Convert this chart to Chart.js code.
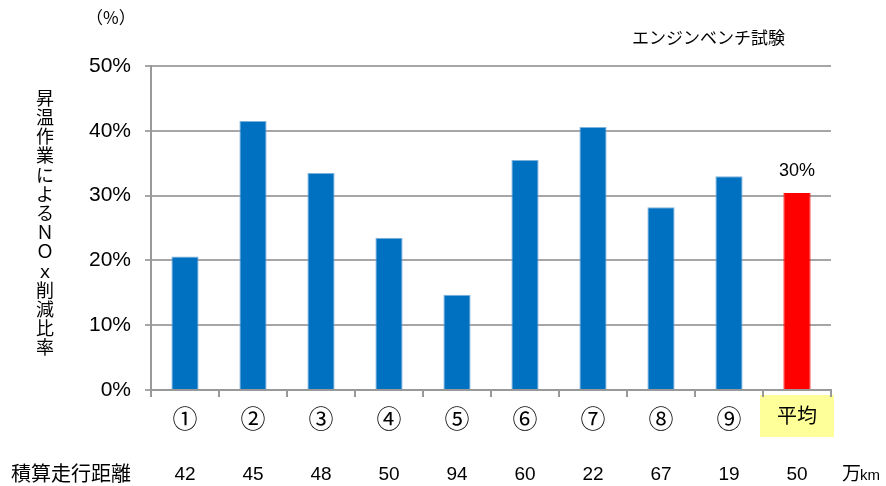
<!DOCTYPE html>
<html lang="ja">
<head>
    <meta charset="UTF-8"/>
    <title>昇温作業によるNOx削減比率</title>
    <script src="https://cdn.jsdelivr.net/npm/chart.js"></script>
    <style>
        html, body { margin: 0; padding: 0; background: #fff; }
        #wrap { width: 886px; height: 486px; position: relative; }
    </style>
</head>
<body>
<div id="wrap"><canvas id="chart" width="886" height="486"></canvas></div>
<script>
    const categories = ['①', '②', '③', '④', '⑤', '⑥', '⑦', '⑧', '⑨', '平均'];
    const reductionPct = [20.6, 41.5, 33.5, 23.5, 14.7, 35.5, 40.6, 28.2, 33.0, 30.4];
    const distances = ['42', '45', '48', '50', '94', '60', '22', '67', '19', '50'];
    const yTicks = [0, 10, 20, 30, 40, 50];
    const avgLabel = '30%';

    const JP = '"Liberation Sans", "Noto Sans CJK JP", sans-serif';
    const CJK = '"Noto Sans CJK JP", sans-serif';
    const lastIdx = categories.length - 1;

    const extras = {
        id: 'extras',
        beforeDraw(chart) {
            // yellow box behind 平均
            const x = chart.scales.x;
            const cx = x.getPixelForValue(lastIdx);
            const ctx = chart.ctx;
            ctx.save();
            ctx.fillStyle = '#ffff99';
            ctx.fillRect(cx - 37, 395, 74, 42);
            ctx.restore();
        },
        afterDraw(chart) {
            const ctx = chart.ctx;
            const x = chart.scales.x;
            const y = chart.scales.y;
            ctx.save();
            ctx.fillStyle = '#000';
            ctx.textBaseline = 'middle';

            // unit
            ctx.font = '17px ' + CJK;
            ctx.textAlign = 'left';
            ctx.fillText('（%）', 86, 18);

            // top note
            ctx.font = '17px ' + JP;
            ctx.fillText('エンジンベンチ試験', 632, 39);

            // vertical y-axis title
            const title = ['昇', '温', '作', '業', 'に', 'よ', 'る', 'Ｎ', 'Ｏ', 'ｘ', '削', '減', '比', '率'];
            ctx.font = '18px ' + CJK;
            ctx.textAlign = 'center';
            title.forEach((ch, i) => ctx.fillText(ch, 45, 98 + i * 19.2));

            // data label on the average bar
            ctx.font = '18px ' + JP;
            ctx.fillText(avgLabel, x.getPixelForValue(lastIdx), y.getPixelForValue(reductionPct[lastIdx]) - 22);

            // distance row
            ctx.font = '20px ' + JP;
            ctx.textAlign = 'left';
            ctx.fillText('積算走行距離', 11, 475);
            ctx.font = '19px ' + JP;
            ctx.textAlign = 'center';
            distances.forEach((d, i) => ctx.fillText(d, x.getPixelForValue(i), 475));
            ctx.textAlign = 'left';
            ctx.font = '19px ' + JP;
            ctx.fillText('万', 842, 475);
            ctx.font = '15px ' + JP;
            ctx.fillText('km', 860, 476);
            ctx.restore();
        }
    };

    new Chart(document.getElementById('chart'), {
        type: 'bar',
        data: {
            labels: categories,
            datasets: [{
                data: reductionPct,
                backgroundColor: reductionPct.map((v, i) => i === lastIdx ? '#ff0000' : '#0070c0'),
                borderColor: reductionPct.map((v, i) => i === lastIdx ? '#ff0000' : '#7fb1dd'),
                borderWidth: 1,
                categoryPercentage: 1,
                barPercentage: 0.4
            }]
        },
        options: {
            responsive: false,
            animation: false,
            events: [],
            layout: {padding: {top: 66, right: 55, left: 0, bottom: 0}},
            plugins: {legend: {display: false}, tooltip: {enabled: false}},
            scales: {
                x: {
                    afterFit: s => { s.height = 96; },
                    grid: {drawOnChartArea: false, color: '#999', lineWidth: 2, tickLength: 7},
                    border: {color: '#999', width: 2},
                    ticks: {
                        color: '#000',
                        font: c => ({size: c.index === lastIdx ? 20 : 25, family: CJK}),
                        padding: 6
                    }
                },
                y: {
                    min: 0,
                    max: 50,
                    afterFit: s => { s.width = 151; },
                    afterBuildTicks: s => { s.ticks = yTicks.map(v => ({value: v})); },
                    grid: {color: '#a6a6a6', lineWidth: 2, tickLength: 6},
                    border: {color: '#999', width: 2},
                    ticks: {
                        color: '#000',
                        font: {size: 21, family: JP},
                        padding: 14,
                        callback: v => v + '%'
                    }
                }
            }
        },
        plugins: [extras]
    });
</script>
</body>
</html>
